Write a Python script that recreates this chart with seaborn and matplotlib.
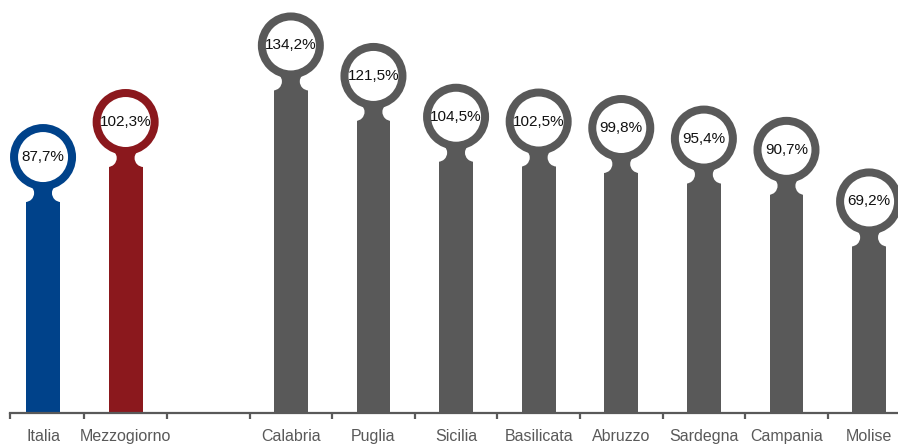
import numpy as np
import pandas as pd
import matplotlib
matplotlib.use('Agg')
import matplotlib.pyplot as plt
import matplotlib.transforms as mtransforms
import seaborn as sns

# Data
regions = ['Italia', 'Mezzogiorno', 'Calabria', 'Puglia', 'Sicilia', 'Basilicata',
           'Abruzzo', 'Sardegna', 'Campania', 'Molise']
values = [87.7, 102.3, 134.2, 121.5, 104.5, 102.5, 99.8, 95.4, 90.7, 69.2]
labels = ['87,7%', '102,3%', '134,2%', '121,5%', '104,5%', '102,5%',
          '99,8%', '95,4%', '90,7%', '69,2%']
# empty slot between the aggregates and the regions
order = ['Italia', 'Mezzogiorno', ''] + regions[2:]

BLUE = '#00428a'
RED = '#8b181d'
GREY = '#595959'
palette = {r: GREY for r in regions}
palette['Italia'] = BLUE
palette['Mezzogiorno'] = RED

df = pd.DataFrame({'region': regions, 'value': values})

sns.set_style('white')
plt.rcParams['font.family'] = ['Liberation Sans', 'DejaVu Sans']

W, H, DPI = 898, 446, 100
fig = plt.figure(figsize=(W / DPI, H / DPI), dpi=DPI)
ax = fig.add_axes([10 / W, 33.5 / H, 888 / W, 412.5 / H])

bar_w = 0.41
sns.barplot(data=df, x='region', y='value', hue='region', order=order,
            palette=palette, width=bar_w, dodge=False, legend=False,
            saturation=1, linewidth=0, edgecolor='none', ax=ax, zorder=2)

ax.set_xlim(-0.4, 10.35)
ax.set_ylim(0, 171.9)

# pixel -> data conversion for the decoration on top of every bar
px_per_unit = 412.5 / 171.9
neck_h = 45 / px_per_unit

xs = np.array([order.index(r) for r in regions])
cols = [palette[r] for r in regions]

# neck from the bar top up to the ring centre
ax.bar(xs, [neck_h] * len(xs), bottom=np.array(values) - 0.3, width=bar_w, color=cols,
       linewidth=0, edgecolor='none', zorder=2)

# white notches on both sides of the neck
for side in (-1, 1):
    tr = ax.transData + mtransforms.ScaledTranslation(side * 1 / DPI, 9 / DPI, fig.dpi_scale_trans)
    ax.scatter(xs + side * bar_w / 2, values, s=(18 * 0.72) ** 2, color='white',
               edgecolors='none', transform=tr, zorder=3)

# ring with the value inside
ring_tr = ax.transData + mtransforms.ScaledTranslation(0, 45 / DPI, fig.dpi_scale_trans)
ax.scatter(xs, values, s=(58 * 0.72) ** 2, facecolors='white', edgecolors=cols,
           linewidths=8 * 0.72, transform=ring_tr, zorder=4)
for x, v, lab in zip(xs, values, labels):
    ax.annotate(lab, (x, v), xytext=(0, 45 * 0.72), textcoords='offset points',
                ha='center', va='center', fontsize=11, color='#111111', zorder=5)

# axis styling
for s in ['top', 'left', 'right']:
    ax.spines[s].set_visible(False)
ax.spines['bottom'].set_color(GREY)
ax.spines['bottom'].set_linewidth(1.6)
ax.set_yticks([])
ax.set_xlabel('')
ax.set_ylabel('')
ax.set_xticks(range(len(order)))
ax.set_xticklabels(order)
ax.set_xticks([-0.4] + list(np.arange(0.5, 10.5, 1.0)), minor=True)
ax.tick_params(axis='x', which='major', length=0, pad=12, labelsize=11.5, labelcolor=GREY)
ax.tick_params(axis='x', which='minor', length=4, width=1.6, color=GREY, direction='out',
               bottom=True)

fig.savefig('out.png', dpi=DPI)
